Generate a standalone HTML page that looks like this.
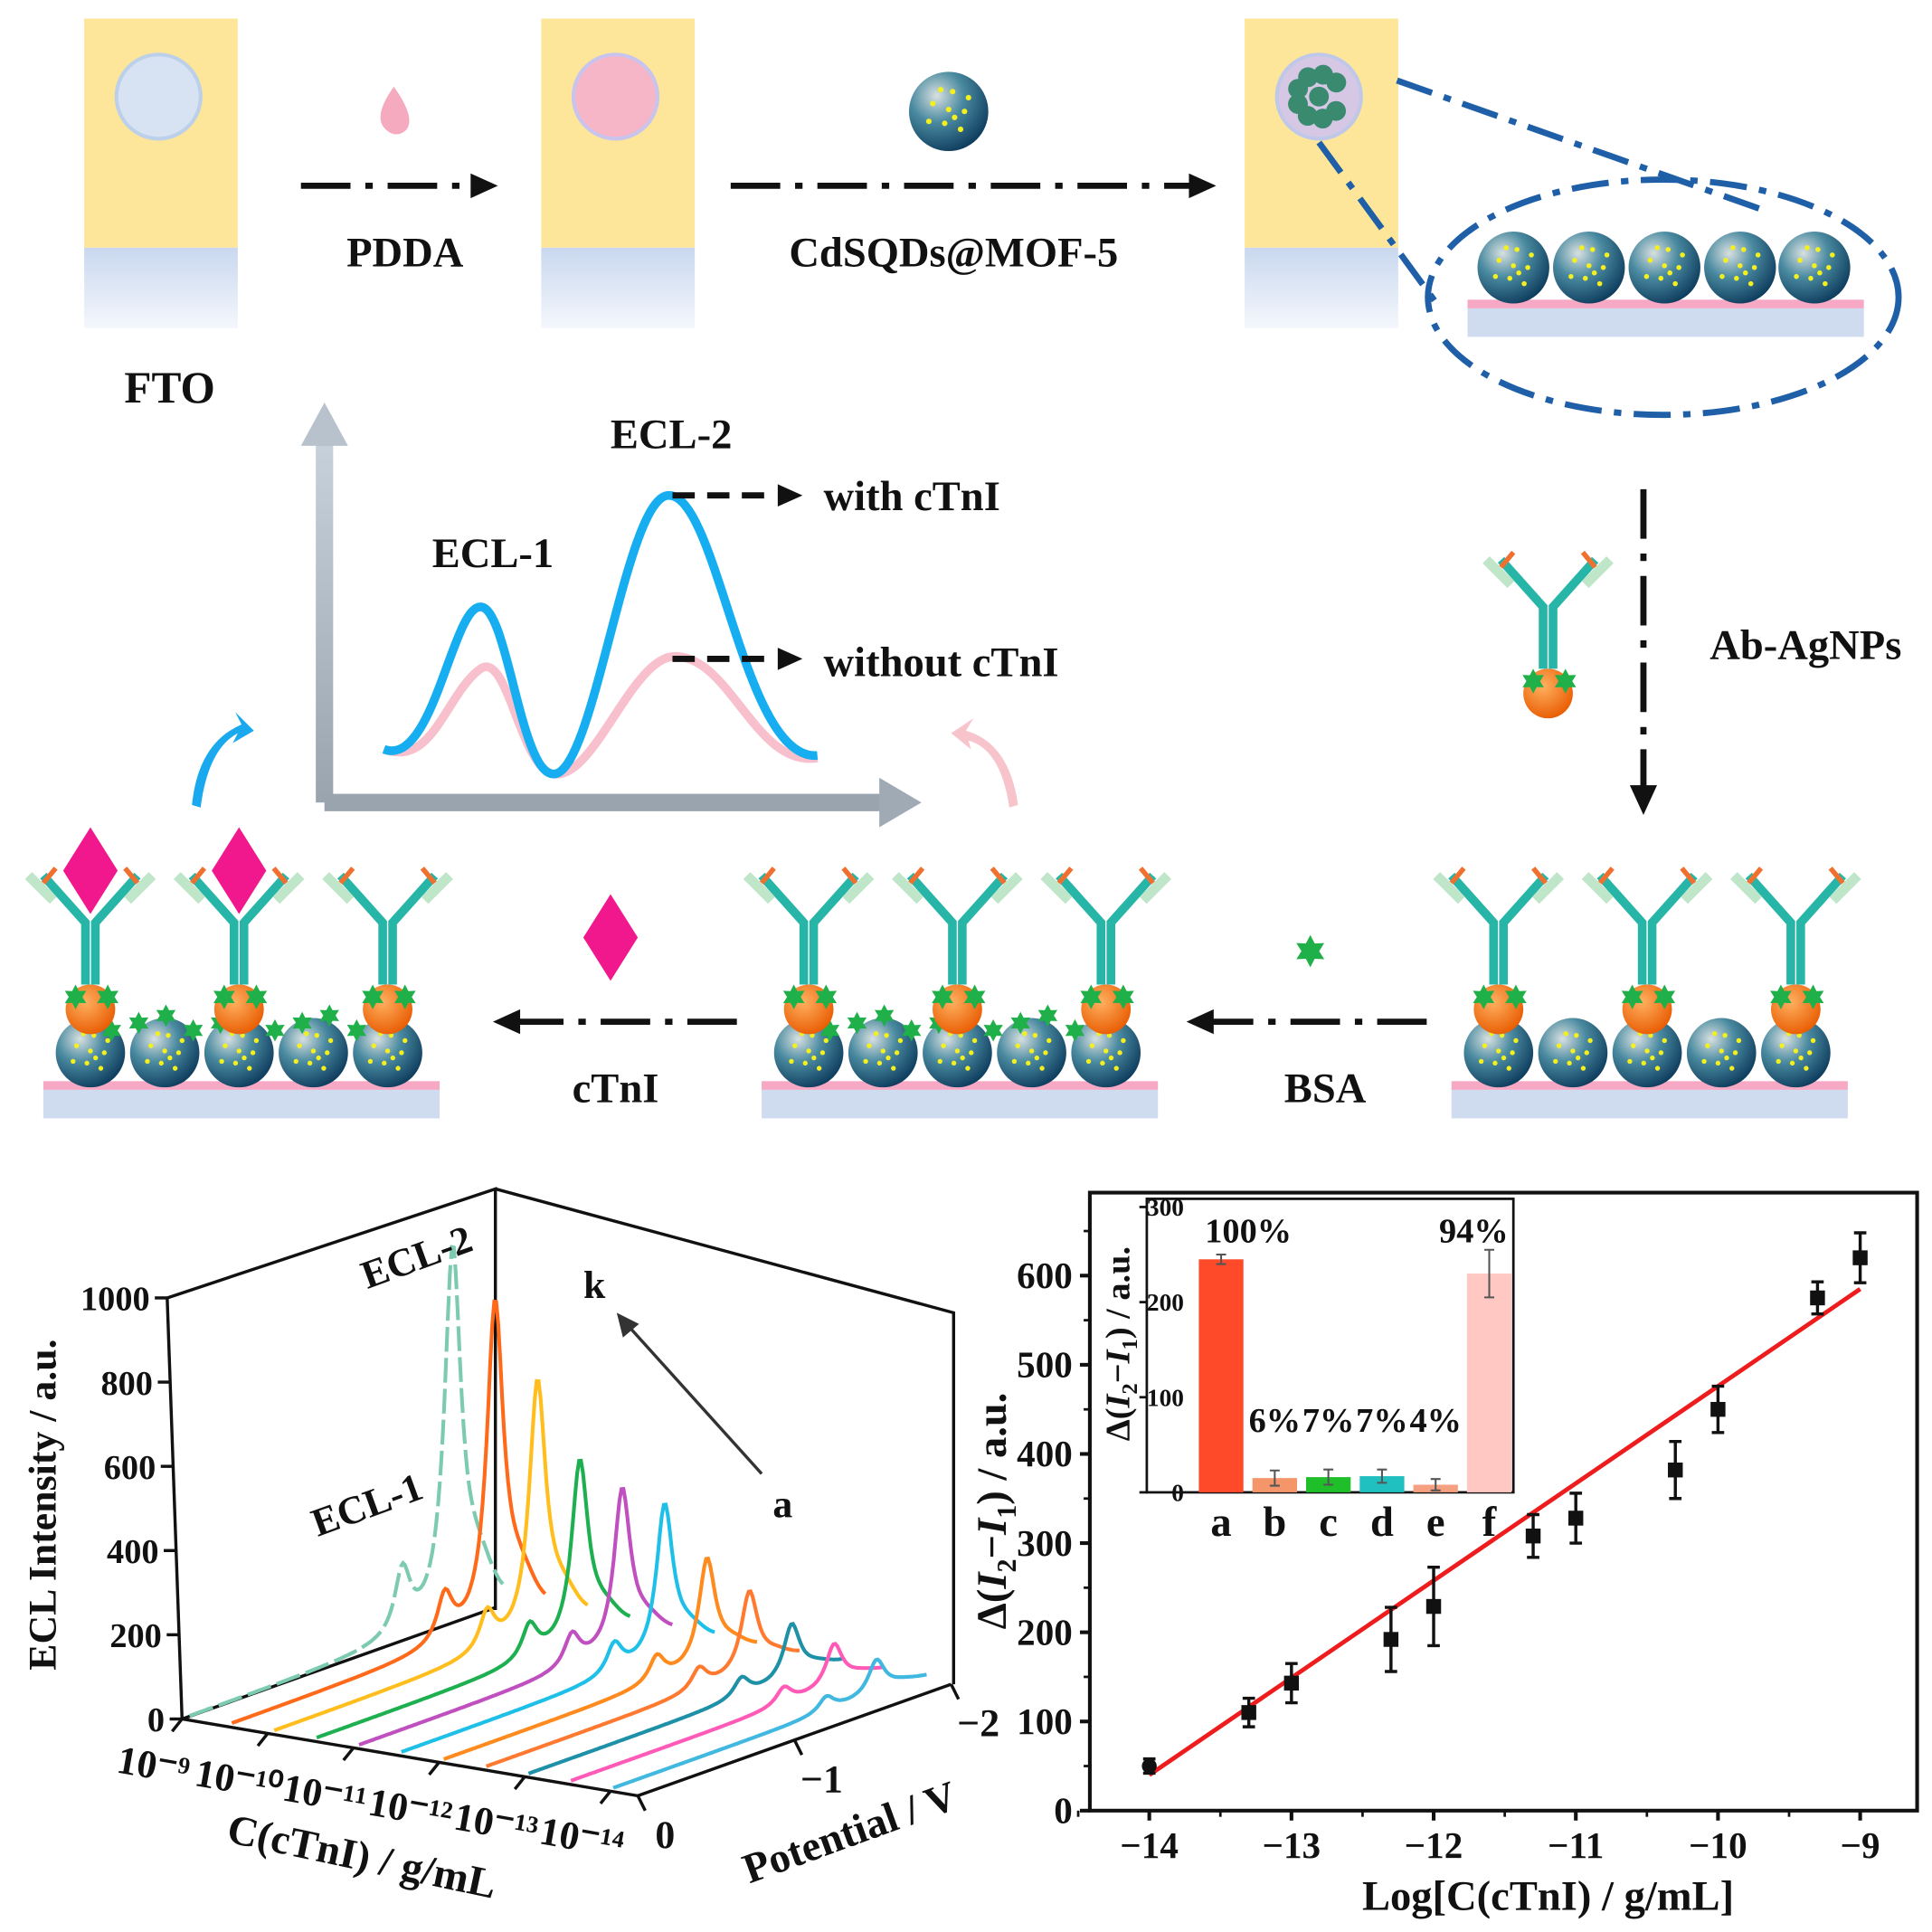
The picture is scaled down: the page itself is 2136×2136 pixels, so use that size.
<!DOCTYPE html>
<html><head><meta charset="utf-8"><style>
html,body{margin:0;padding:0;background:#fff}
svg{display:block}
text{font-family:"Liberation Serif",serif;font-weight:bold}
</style></head><body>
<svg id="fig" width="2136" height="2136" viewBox="0 0 1560 1560" xmlns="http://www.w3.org/2000/svg">
<defs>
<linearGradient id="fto" x1="0" y1="0" x2="0" y2="1"><stop offset="0" stop-color="#c9d8ef"/><stop offset="1" stop-color="#f4f7fc"/></linearGradient>
<radialGradient id="sph" cx="0.35" cy="0.3" r="0.75"><stop offset="0" stop-color="#d8e0e0"/><stop offset="0.45" stop-color="#4a8aa0"/><stop offset="1" stop-color="#0d3b5c"/></radialGradient>
<radialGradient id="org" cx="0.4" cy="0.35" r="0.7"><stop offset="0" stop-color="#ffb060"/><stop offset="1" stop-color="#e85a00"/></radialGradient>
<linearGradient id="gax" x1="0" y1="0" x2="0" y2="1"><stop offset="0" stop-color="#c8d2dc"/><stop offset="1" stop-color="#9aa4ae"/></linearGradient>
</defs>
<g id="schematic"></g>
<g id="left3d"></g>
<g id="rightchart"></g>
</svg>
<script>
const NS="http://www.w3.org/2000/svg";
function mk(parent,tag,attrs,txt){const e=document.createElementNS(NS,tag);for(const k in attrs)e.setAttribute(k,attrs[k]);if(txt!==undefined)e.textContent=txt;parent.appendChild(e);return e;}
const S=document.getElementById('schematic');

function sphere(x,y,r){const g=mk(S,'g',{});


mk(g,'circle',{cx:x,cy:y,r:r,fill:'url(#sph)'});
const pts=[[-.4,-.2],[.1,-.5],[.4,0],[-.1,.3],[.3,.45],[-.5,.25],[0,-.05],[.5,-.35],[-.2,-.55],[.15,.15]];
pts.forEach(p=>mk(g,'circle',{cx:x+p[0]*r,cy:y+p[1]*r,r:r*0.07,fill:'#f4f020'}));}
function star(x,y,r){const e=mk(S,'polygon',{points:[...Array(12)].map((_,i)=>{const a=i*Math.PI/6-Math.PI/2,rr=i%2?r*0.55:r;return (x+rr*Math.cos(a))+','+(y+rr*Math.sin(a));}).join(' '),fill:'#1fb04a'});

}
function antibody(x,y){const g=mk(S,'g',{});


mk(g,'path',{d:`M${x-4} ${y+80}V${y+30}L${x-38} ${y-8}M${x+4} ${y+80}V${y+30}L${x+38} ${y-8}`,stroke:'#27b5a8','stroke-width':7,fill:'none'});
mk(g,'path',{d:`M${x-30} ${y+12}L${x-50} ${y-8}M${x+30} ${y+12}L${x+50} ${y-8}`,stroke:'#bfe6c8','stroke-width':8,fill:'none'});
mk(g,'path',{d:`M${x-28} ${y-14}L${x-38} ${y-2}M${x+28} ${y-14}L${x+38} ${y-2}`,stroke:'#f07030','stroke-width':4,fill:'none'});
mk(g,'circle',{cx:x,cy:y+100,r:20,fill:'url(#org)'});
star(x-12,y+90,10);star(x+14,y+90,10);}
function substrate(x1,x2,y){const a=mk(S,'rect',{x:x1,y:y,width:x2-x1,height:7,fill:'#f6a8c4'});

const b=mk(S,'rect',{x:x1,y:y+7,width:x2-x1,height:23,fill:'#cfdcef'});
}
function fto(x,cfill,cstroke,name){const g=mk(S,'g',{});


mk(g,'rect',{x:x,y:15,width:124,height:185,fill:'#fde69a'});
mk(g,'rect',{x:x,y:200,width:124,height:65,fill:'url(#fto)'});
mk(g,'circle',{cx:x+60,cy:78,r:34,fill:cfill,stroke:cstroke,'stroke-width':3});}
function txt(x,y,s,size,name,anchor){const t=mk(S,'text',{x:x,y:y,'font-size':size,'text-anchor':anchor||'middle',fill:'#111'},s);
return t;}
function arrowH(x1,x2,y,name,color){const g=mk(S,'g',{});

const dir=x2>x1?1:-1;
mk(g,'line',{x1:x1,y1:y,x2:x2-dir*18,y2:y,stroke:color||'#111','stroke-width':5,'stroke-dasharray':'40 12 6 12'});
mk(g,'polygon',{points:`${x2},${y} ${x2-dir*22},${y-10} ${x2-dir*22},${y+10}`,fill:color||'#111'});}

fto(68,'#d7e2f3','#bcd0ea','fto-electrode-1');
fto(437,'#f6b6c8','#c8c4ee','fto-electrode-2');
fto(1005,'#d6c8e4','#c0c8ea','fto-electrode-3');
for(let i=0;i<9;i++){const a=i*0.7,rr=i?18:0;mk(S,'circle',{cx:1065+rr*Math.cos(a),cy:78+rr*Math.sin(a),r:8,fill:'#3a8a70'});}
txt(137,325,'FTO',36,'fto-label');
const drop=mk(S,'path',{d:'M318 70 Q300 95 312 105 Q320 112 328 105 Q336 95 318 70Z',fill:'#f5aac0'});

arrowH(243,402,150,'arrow-pdda');
txt(327,215,'PDDA',34,'pdda-label');
sphere(766,90,32);
arrowH(590,982,150,'arrow-cdsqds');
txt(770,215,'CdSQDs@MOF-5',34,'cdsqds-label');
const zl=mk(S,'path',{d:'M1128 65 L1425 170 M1065 115 L1160 245',stroke:'#1f5fa8','stroke-width':5,fill:'none','stroke-dasharray':'30 10 6 10'});

const el=mk(S,'ellipse',{cx:1343,cy:240,rx:190,ry:95,stroke:'#1f5fa8','stroke-width':5,fill:'none','stroke-dasharray':'30 10 6 10'});

substrate(1185,1505,242);
[1222,1283,1344,1405,1465].forEach(x=>sphere(x,216,29));
const va=mk(S,'g',{});
mk(va,'line',{x1:1327,y1:395,x2:1327,y2:635,stroke:'#111','stroke-width':5,'stroke-dasharray':'40 12 6 12'});
mk(va,'polygon',{points:'1327,658 1316,634 1338,634',fill:'#111'});
txt(1458,532,'Ab-AgNPs',34,'ab-agnps-label');
antibody(1250,460);
const mg=mk(S,'g',{});
mk(mg,'path',{d:'M262 648 V350 M262 648 H718',stroke:'url(#gax)','stroke-width':14,fill:'none'});
mk(mg,'polygon',{points:'262,325 243,360 281,360',fill:'#b8c2cc'});
mk(mg,'polygon',{points:'744,648 710,628 710,668',fill:'#a0aab4'});
mk(mg,'path',{d:'M310 605 C350 620 360 560 388 540 C410 525 420 620 447 625 C480 630 510 530 545 530 C590 530 610 620 660 612',stroke:'#f7c0cc','stroke-width':7,fill:'none'});
mk(mg,'path',{d:'M310 605 C350 620 365 490 388 490 C410 490 420 625 447 625 C480 625 505 400 540 400 C580 400 600 615 660 610',stroke:'#16aef0','stroke-width':7,fill:'none'});
mk(mg,'path',{d:'M543 400 H620 M543 532 H620',stroke:'#111','stroke-width':5,'stroke-dasharray':'18 10'});
mk(mg,'polygon',{points:'648,400 628,391 628,409',fill:'#111'});
mk(mg,'polygon',{points:'648,532 628,523 628,541',fill:'#111'});
txt(398,458,'ECL-1',34,'ecl1-label');
txt(542,362,'ECL-2',34,'ecl2-label');
txt(665,412,'with cTnI',34,'with-ctni-label','start');
txt(665,546,'without cTnI',34,'without-ctni-label','start');
const ca=mk(S,'path',{d:'M155 650 Q160 600 195 585 L190 575 L205 590 L188 600 L192 592 Q168 605 162 652Z',fill:'#1aa8ee'});

const cp=mk(S,'path',{d:'M822 650 Q815 600 780 590 L786 580 L768 592 L784 605 L782 598 Q808 605 815 652Z',fill:'#f8c4cc'});

function assembly(x0,withBsa,diamonds){substrate(x0,x0+320,873);
const xs=[x0+38,x0+98,x0+158,x0+218,x0+278];xs.forEach(x=>sphere(x,850,28));
if(withBsa){for(let k=0;k<11;k++){star(x0+55+k*22,832-(k%3)*6,9);}}
[0,2,4].forEach(i=>antibody(xs[i],715));
diamonds.forEach(i=>{const x=xs[i];const d=mk(S,'polygon',{points:`${x},668 ${x+22},703 ${x},738 ${x-22},703`,fill:'#f0188c'});
});}
assembly(1172,false,[]);
assembly(615,true,[]);
assembly(35,true,[0,2]);
arrowH(1152,958,825,'arrow-bsa');
txt(1070,890,'BSA',34,'bsa-label');
star(1058,768,13);
arrowH(595,398,825,'arrow-ctni');
txt(497,890,'cTnI',34,'ctni-label');
const dd=mk(S,'polygon',{points:'493,722 515,757 493,792 471,757',fill:'#f0188c'});


/* ---------- left 3D chart ---------- */
const L=document.getElementById('left3d');
const concLabels=['10⁻⁹','10⁻¹⁰','10⁻¹¹','10⁻¹²','10⁻¹³','10⁻¹⁴'];
const potLabels=['0','−1','−2'];
const intTicks=[0,200,400,600,800,1000];
const ecl2Peaks=[880,770,600,430,380,360,250,190,130,100,80];
const ecl1Peaks=[150,110,90,80,75,70,60,50,45,40,35];
const traceColors=['#7ccbb0','#ff6a1a','#ffbe1e','#1eb050','#c050c0','#1ec0e8','#ff8a1e','#ff7a30','#1e90a8','#ff5ab8','#40b8e0'];
const O={x:147,y:1388}, CX={x:368,y:62}, PZ={x:253,y:-90}, VZ=0.34;
mk(L,'path',{d:`M135 1048 L400 960 L400 1300 M400 960 L770 1060 L770 1360`,stroke:'#111','stroke-width':2.5,fill:'none'});
mk(L,'path',{d:`M${O.x} ${O.y} L${O.x+CX.x} ${O.y+CX.y} L${O.x+CX.x+PZ.x} ${O.y+CX.y+PZ.y} M${O.x} ${O.y} L${O.x+PZ.x} ${O.y+PZ.y}`,stroke:'#111','stroke-width':2.5,fill:'none'});
mk(L,'line',{x1:135,y1:1048,x2:O.x,y2:O.y,stroke:'#111','stroke-width':2.5});
intTicks.forEach(v=>{const y=O.y-(v/1000)*(O.y-1048);const x=O.x-(v/1000)*12;
mk(L,'line',{x1:x,y1:y,x2:x-10,y2:y,stroke:'#111','stroke-width':2.5});
const t=mk(L,'text',{x:x-14,y:y+10,'font-size':28,'text-anchor':'end',fill:'#111'},String(v));
});
const yl=mk(L,'text',{x:45,y:1215,'font-size':32,'text-anchor':'middle',fill:'#111',transform:'rotate(-90 45 1215)'},'ECL Intensity / a.u.');

concLabels.forEach((s,i)=>{const f=i/5;const x=O.x+CX.x*f*0.94,y=O.y+CX.y*f*0.94;
mk(L,'line',{x1:x,y1:y,x2:x-8,y2:y+10,stroke:'#111','stroke-width':2.5});
const t=mk(L,'text',{x:x-25,y:y+48,'font-size':32,'text-anchor':'middle',fill:'#111',transform:`rotate(10 ${x-25} ${y+48})`},s);
});
const cl=mk(L,'text',{x:290,y:1510,'font-size':34,'text-anchor':'middle',fill:'#111',transform:'rotate(12 290 1510)'},'C(cTnI)  / g/mL');

potLabels.forEach((s,i)=>{const f=i/2;const x=O.x+CX.x+PZ.x*f,y=O.y+CX.y+PZ.y*f;
mk(L,'line',{x1:x,y1:y,x2:x+6,y2:y+12,stroke:'#111','stroke-width':2.5});
const t=mk(L,'text',{x:x+22,y:y+42,'font-size':32,'text-anchor':'middle',fill:'#111'},s);
});
const pl=mk(L,'text',{x:690,y:1490,'font-size':34,'text-anchor':'middle',fill:'#111',transform:'rotate(-20 690 1490)'},'Potential  / V');

ecl2Peaks.forEach((p2,i)=>{const p1=ecl1Peaks[i];
const bx=O.x+CX.x*(i/10)*0.93+6, by=O.y+CX.y*(i/10)*0.93-2;
let d='';for(let k=0;k<=160;k++){const t=k/160;
const v=p1/(1+Math.pow((t-0.68)/0.03,2))+p2/(1+Math.pow((t-0.84)/0.032,2))+0.1*p2*Math.exp(-Math.pow((t-0.92)/0.06,2));
const x=bx+PZ.x*t, y=by+PZ.y*t-v*VZ;d+=(k?'L':'M')+x.toFixed(1)+' '+y.toFixed(1);}
const path=mk(L,'path',{d:d,stroke:traceColors[i],'stroke-width':3,fill:'none'});
if(i===0)path.setAttribute('stroke-dasharray','20 5');

});
[['ECL-2',340,1025,-20],['ECL-1',300,1225,-20],['k',480,1048,0],['a',632,1225,0]].forEach(a=>{const t=mk(L,'text',{x:a[1],y:a[2],'font-size':32,'text-anchor':'middle',fill:'#111',transform:`rotate(${a[3]} ${a[1]} ${a[2]})`},a[0]);
});
const ka=mk(L,'g',{});
mk(ka,'line',{x1:615,y1:1190,x2:505,y2:1068,stroke:'#333','stroke-width':2.5});
mk(ka,'polygon',{points:'498,1060 503,1080 516,1069',fill:'#333'});

/* ---------- right calibration chart ---------- */
const R=document.getElementById('rightchart');
const logConc=[-14,-13.3,-13,-12.3,-12,-11.3,-11,-10.3,-10,-9.3,-9];
const deltaI=[50,110,143,192,229,308,328,382,450,575,620];
const deltaErr=[8,16,22,36,44,24,28,32,26,18,28];
const fitLine=[[-14,40],[-9,585]];
const xTicks=[-14,-13,-12,-11,-10,-9];
const yTicks=[0,100,200,300,400,500,600];
const insetCats=['a','b','c','d','e','f'];
const insetVals=[245,15,16,17,8,230];
const insetErr=[5,8,8,7,6,25];
const insetPct=['100%','6%','7%','7%','4%','94%'];
const insetColors=['#ff4a2a','#f5956a','#1fbf2a','#20c0c0','#f5a080','#ffc8c2'];
const insetTicks=[0,100,200,300];
const xs=v=>928+(v+14)*114.8, ys=v=>1462-v*0.72;
mk(R,'rect',{x:880,y:963,width:668,height:499,fill:'none',stroke:'#111','stroke-width':3});
xTicks.forEach(v=>{mk(R,'line',{x1:xs(v),y1:1462,x2:xs(v),y2:1470,stroke:'#111','stroke-width':3});
const t=mk(R,'text',{x:xs(v),y:1500,'font-size':30,'text-anchor':'middle',fill:'#111'},'−'+Math.abs(v));
});
for(let v=-14.5;v<=-9;v+=0.5)mk(R,'line',{x1:xs(v),y1:1462,x2:xs(v),y2:1467,stroke:'#111','stroke-width':2});
yTicks.forEach(v=>{mk(R,'line',{x1:880,y1:ys(v),x2:872,y2:ys(v),stroke:'#111','stroke-width':3});
const t=mk(R,'text',{x:866,y:ys(v)+10,'font-size':30,'text-anchor':'end',fill:'#111'},String(v));
});
for(let v=50;v<=650;v+=100)mk(R,'line',{x1:880,y1:ys(v),x2:875,y2:ys(v),stroke:'#111','stroke-width':2});
const xt=mk(R,'text',{x:1250,y:1542,'font-size':34,'text-anchor':'middle',fill:'#111'},'Log[C(cTnI)  / g/mL]');

const yt=mk(R,'text',{x:812,y:1220,'font-size':34,'text-anchor':'middle',fill:'#111',transform:'rotate(-90 812 1220)'});

yt.innerHTML='Δ(<tspan font-style="italic">I</tspan><tspan font-size="22" dy="8">2</tspan><tspan dy="-8">−</tspan><tspan font-style="italic">I</tspan><tspan font-size="22" dy="8">1</tspan><tspan dy="-8">) / a.u.</tspan>';
const fl=mk(R,'line',{x1:xs(fitLine[0][0]),y1:ys(fitLine[0][1]),x2:xs(fitLine[1][0]),y2:ys(fitLine[1][1]),stroke:'#ee1c1c','stroke-width':3.5});

logConc.forEach((c,i)=>{const x=xs(c),y=ys(deltaI[i]),e=deltaErr[i]*0.72;
const g=mk(R,'g',{});


mk(g,'path',{d:`M${x} ${y-e}V${y+e}M${x-5} ${y-e}H${x+5}M${x-5} ${y+e}H${x+5}`,stroke:'#111','stroke-width':2.5});
if(i===0)mk(g,'circle',{cx:x,cy:y,r:6,fill:'#111'});else mk(g,'rect',{x:x-6,y:y-6,width:12,height:12,fill:'#111'});});
const I=mk(R,'g',{});
mk(I,'rect',{x:926,y:968,width:296,height:237,fill:'#fff',stroke:'#111','stroke-width':2});
const ix=i=>986+i*43.3, iy=v=>1205-v*0.768;
insetTicks.forEach(v=>{mk(I,'line',{x1:926,y1:iy(v),x2:920,y2:iy(v),stroke:'#111','stroke-width':2});
const t=mk(I,'text',{x:956,y:iy(v)+7,'font-size':20,'text-anchor':'end',fill:'#111'},String(v));
});
const it=mk(I,'text',{x:912,y:1085,'font-size':28,'text-anchor':'middle',fill:'#111',transform:'rotate(-90 912 1085)'});

it.innerHTML='Δ(<tspan font-style="italic">I</tspan><tspan font-size="18" dy="6">2</tspan><tspan dy="-6">−</tspan><tspan font-style="italic">I</tspan><tspan font-size="18" dy="6">1</tspan><tspan dy="-6">) / a.u.</tspan>';
insetCats.forEach((c,i)=>{const x=ix(i),v=insetVals[i];
const b=mk(I,'rect',{x:x-18,y:iy(v),width:36,height:iy(0)-iy(v),fill:insetColors[i]});

mk(I,'path',{d:`M${x} ${iy(v+insetErr[i])}V${iy(Math.max(0,v-insetErr[i]))}M${x-4} ${iy(v+insetErr[i])}H${x+4}M${x-4} ${iy(Math.max(0,v-insetErr[i]))}H${x+4}`,stroke:'#555','stroke-width':1.5});
const l=mk(I,'text',{x:x,y:1240,'font-size':34,'text-anchor':'middle',fill:'#111'},c);

const py=(i===0||i===5)?1003:1156;
const p=mk(I,'text',{x:(i===0?1008:i===5?1190:x),y:py,'font-size':28,'text-anchor':'middle',fill:'#111'},insetPct[i]);
});
</script>
</body></html>
